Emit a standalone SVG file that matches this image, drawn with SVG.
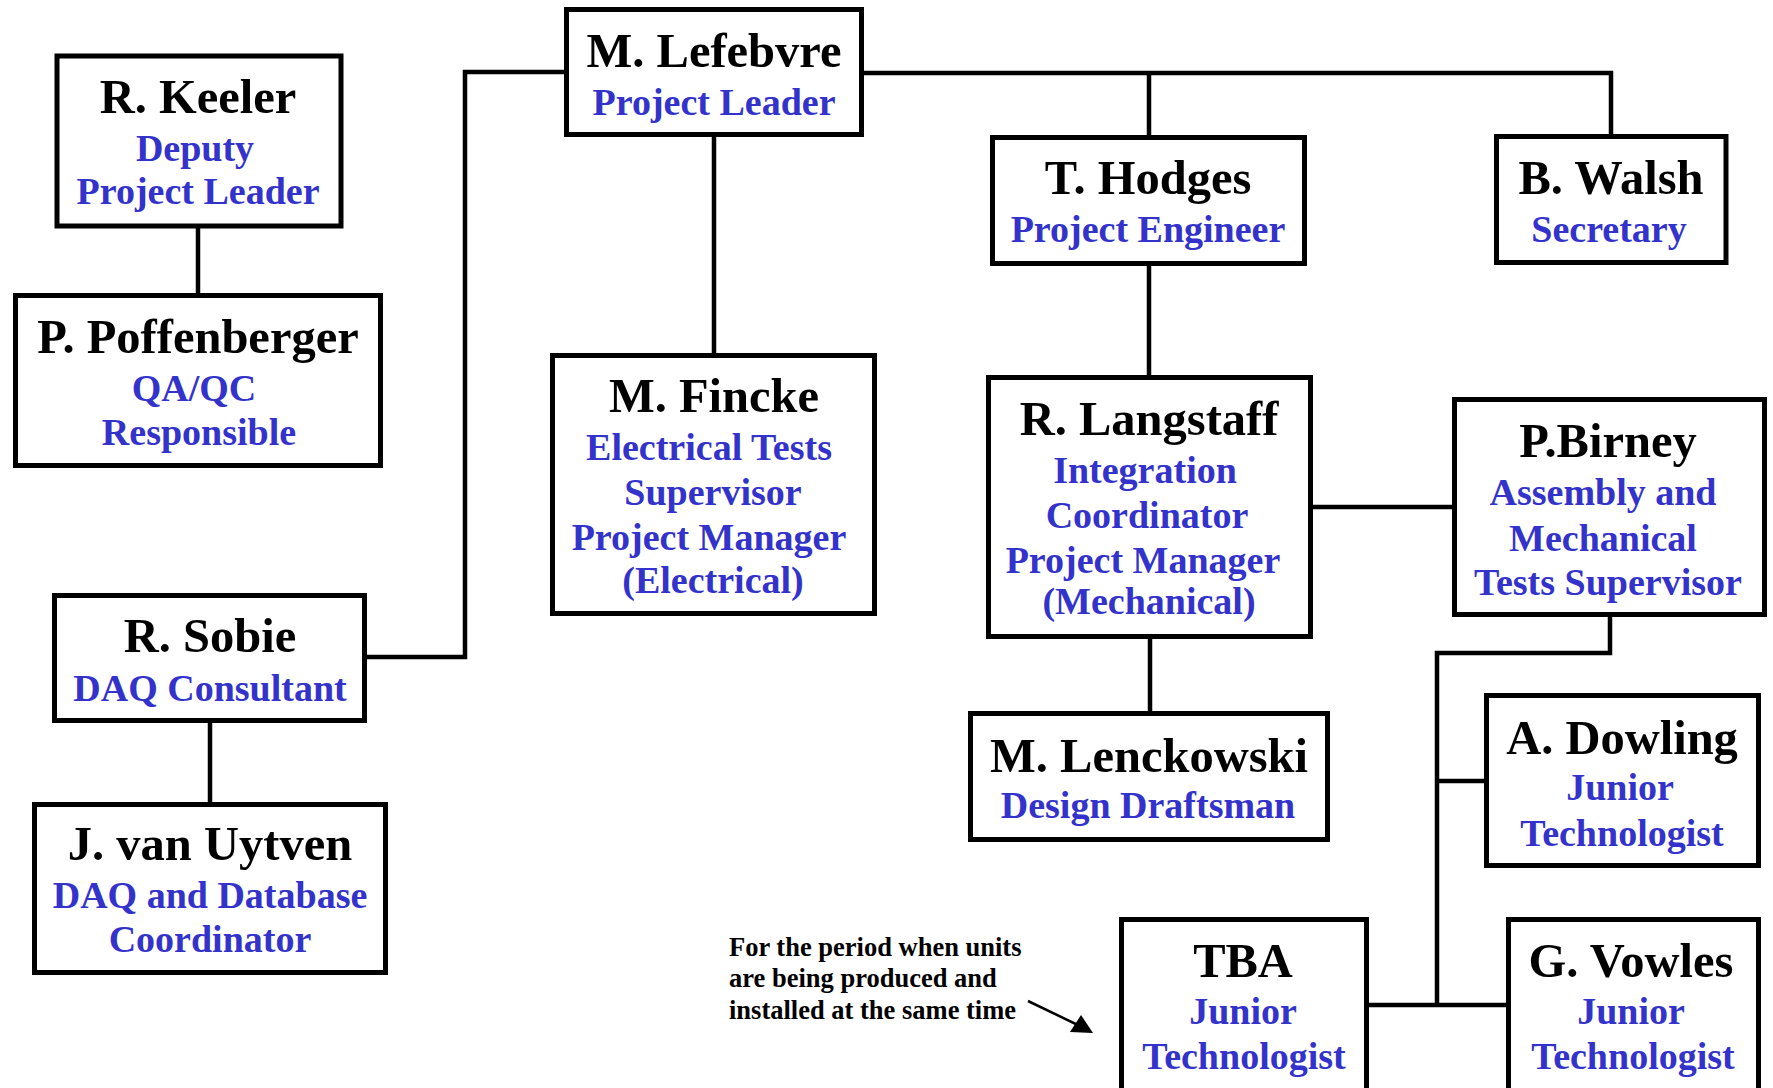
<svg xmlns="http://www.w3.org/2000/svg" width="1773" height="1088" viewBox="0 0 1773 1088">
<style>
.box{fill:#fff;stroke:#000;stroke-width:5}
.ln{fill:none;stroke:#000;stroke-width:4.5}
.nm{font-family:"Liberation Serif","Times New Roman",serif;font-weight:bold;font-size:48.5px;fill:#000;text-anchor:middle}
.rl{font-family:"Liberation Serif","Times New Roman",serif;font-weight:bold;font-size:38px;fill:#3333CC;text-anchor:middle}
.nt{font-family:"Liberation Serif","Times New Roman",serif;font-weight:bold;font-size:26.5px;fill:#000}
</style>
<rect width="1773" height="1088" fill="#fff"/>
<g id="connectors">
<path class="ln" d="M566,72 H465 V657 H365"/>
<path class="ln" d="M862,73 H1611 V137"/>
<path class="ln" d="M1149,73 V137"/>
<path class="ln" d="M714,135 V355"/>
<path class="ln" d="M198,226 V295"/>
<path class="ln" d="M210,721 V804"/>
<path class="ln" d="M1149,264 V377"/>
<path class="ln" d="M1311,507 H1455"/>
<path class="ln" d="M1150,637 V713"/>
<path class="ln" d="M1610,615 V653 H1437 V1005"/>
<path class="ln" d="M1437,781 H1487"/>
<path class="ln" d="M1367,1005 H1509"/>
<line x1="1028" y1="1001" x2="1082" y2="1027" stroke="#000" stroke-width="2.5"/>
<polygon points="1070,1032 1093,1033 1081,1015" fill="#000"/>
</g>
<g id="lefebvre"><rect class="box" x="566.5" y="9.5" width="295" height="125"/>
<text class="nm" x="714" y="67">M. Lefebvre</text><text class="rl" x="714" y="115">Project Leader</text></g>
<g id="keeler"><rect class="box" x="57" y="56" width="284" height="170"/>
<text class="nm" x="198" y="113">R. Keeler</text><text class="rl" x="195" y="161">Deputy</text><text class="rl" x="198" y="204">Project Leader</text></g>
<g id="poffenberger"><rect class="box" x="15.5" y="295.5" width="365" height="170"/>
<text class="nm" x="198" y="353">P. Poffenberger</text><text class="rl" x="194" y="401">QA/QC</text><text class="rl" x="199" y="445">Responsible</text></g>
<g id="fincke"><rect class="box" x="552.5" y="355.5" width="322" height="258"/>
<text class="nm" x="714" y="412">M. Fincke</text><text class="rl" x="709" y="460">Electrical Tests</text><text class="rl" x="713" y="505">Supervisor</text><text class="rl" x="709" y="550">Project Manager</text><text class="rl" x="713" y="593">(Electrical)</text></g>
<g id="sobie"><rect class="box" x="54.5" y="595.5" width="310" height="125"/>
<text class="nm" x="210" y="652">R. Sobie</text><text class="rl" x="210" y="701">DAQ Consultant</text></g>
<g id="uytven"><rect class="box" x="34.5" y="804.5" width="351" height="168"/>
<text class="nm" x="210" y="860">J. van Uytven</text><text class="rl" x="210" y="908">DAQ and Database</text><text class="rl" x="210" y="952">Coordinator</text></g>
<g id="hodges"><rect class="box" x="992.5" y="137.5" width="312" height="126"/>
<text class="nm" x="1148" y="194">T. Hodges</text><text class="rl" x="1148" y="242">Project Engineer</text></g>
<g id="walsh"><rect class="box" x="1496.5" y="136.5" width="229.5" height="126"/>
<text class="nm" x="1611" y="194">B. Walsh</text><text class="rl" x="1609" y="242">Secretary</text></g>
<g id="langstaff"><rect class="box" x="988.5" y="377.5" width="322" height="259"/>
<text class="nm" x="1149" y="435">R. Langstaff</text><text class="rl" x="1145" y="483">Integration</text><text class="rl" x="1147" y="528">Coordinator</text><text class="rl" x="1143" y="573">Project Manager</text><text class="rl" x="1149" y="614">(Mechanical)</text></g>
<g id="birney"><rect class="box" x="1454.5" y="399.5" width="310" height="215"/>
<text class="nm" x="1608" y="457">P.Birney</text><text class="rl" x="1603" y="505">Assembly and</text><text class="rl" x="1603" y="551">Mechanical</text><text class="rl" x="1608" y="595">Tests Supervisor</text></g>
<g id="lenckowski"><rect class="box" x="970.5" y="713.5" width="357" height="126"/>
<text class="nm" x="1149" y="772">M. Lenckowski</text><text class="rl" x="1148" y="818">Design Draftsman</text></g>
<g id="dowling"><rect class="box" x="1486.5" y="695.5" width="272" height="170"/>
<text class="nm" x="1622" y="754">A. Dowling</text><text class="rl" x="1620" y="800">Junior</text><text class="rl" x="1622" y="846">Technologist</text></g>
<g id="tba"><rect class="box" x="1121.5" y="919.5" width="245" height="200"/>
<text class="nm" x="1243" y="977">TBA</text><text class="rl" x="1243" y="1024">Junior</text><text class="rl" x="1244" y="1069">Technologist</text></g>
<g id="vowles"><rect class="box" x="1508.5" y="919.5" width="250" height="200"/>
<text class="nm" x="1631" y="977">G. Vowles</text><text class="rl" x="1631" y="1024">Junior</text><text class="rl" x="1633" y="1069">Technologist</text></g>
<g id="note"><text class="nt" x="729" y="956">For the period when units</text><text class="nt" x="729" y="987">are being produced and</text><text class="nt" x="729" y="1019">installed at the same time</text></g>
</svg>
